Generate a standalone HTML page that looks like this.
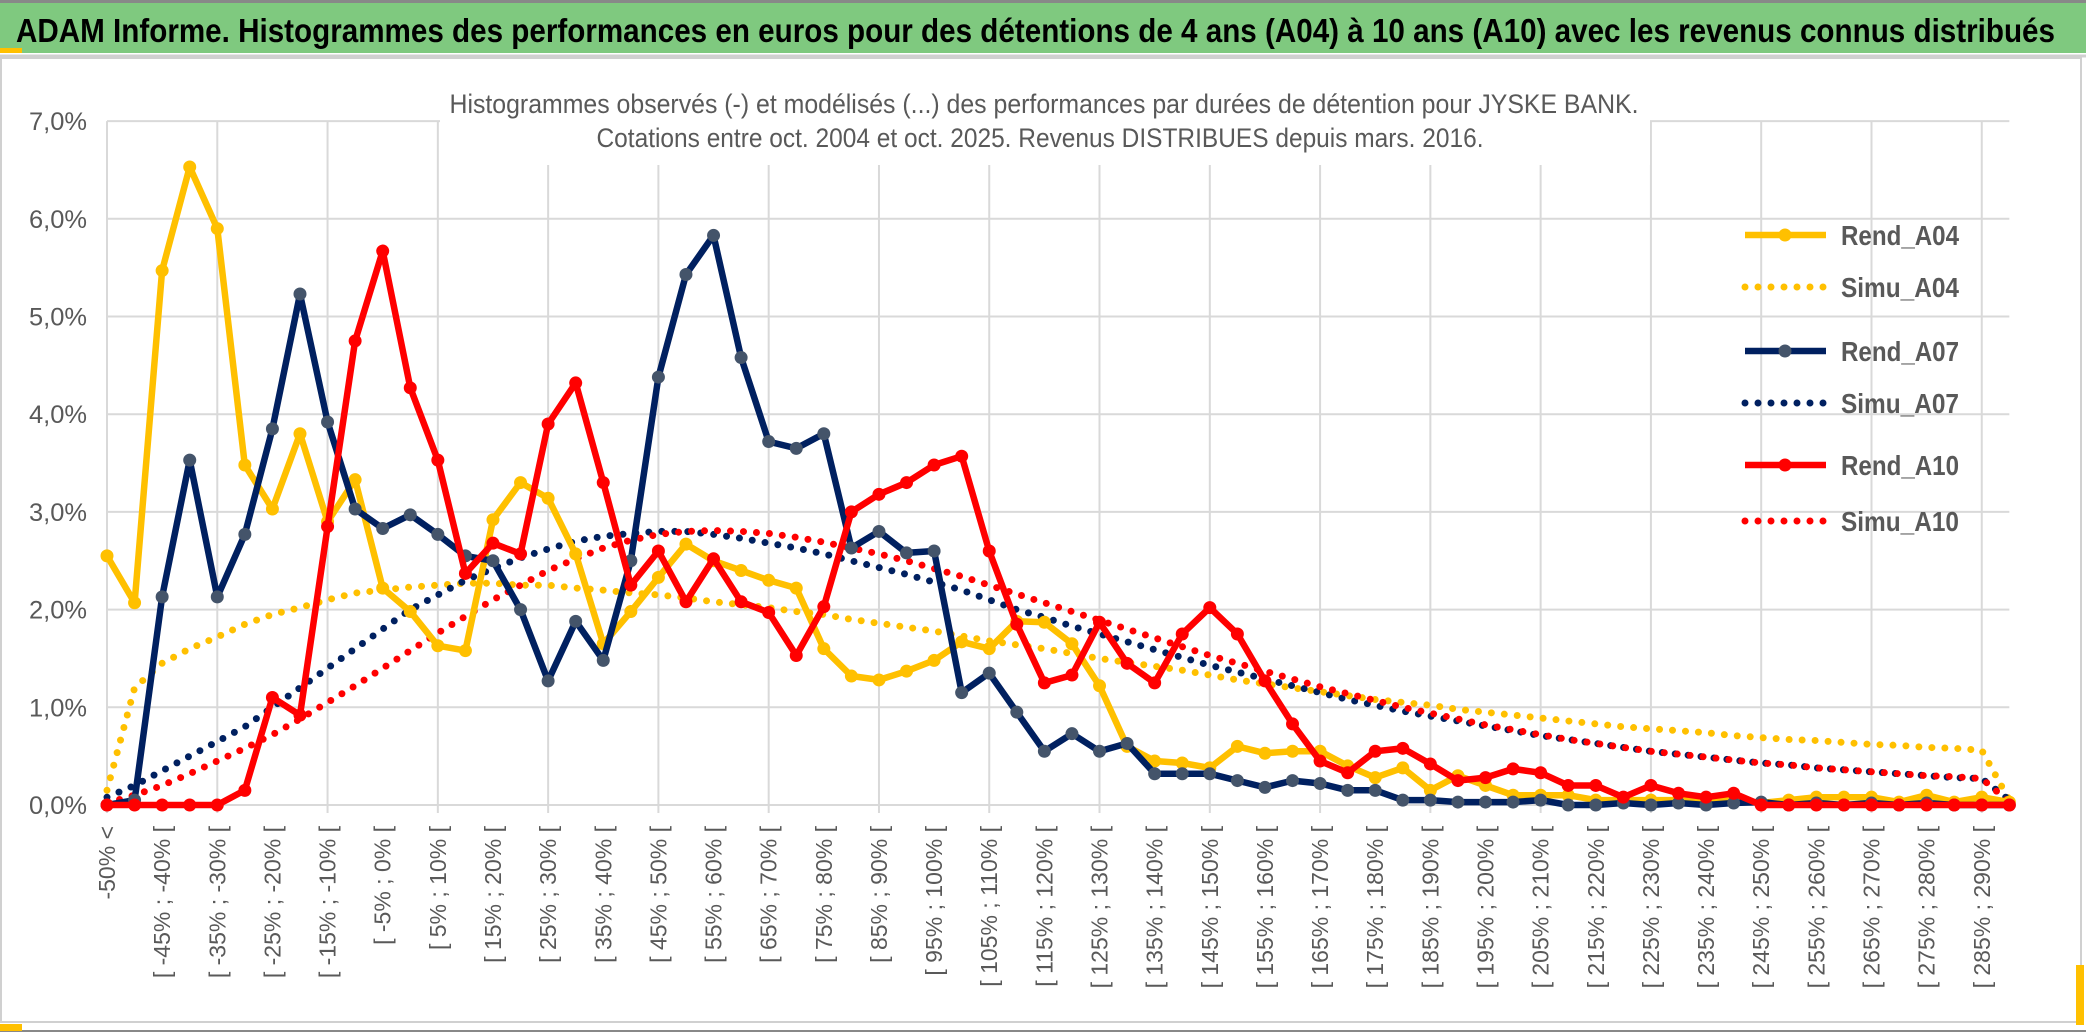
<!DOCTYPE html>
<html><head><meta charset="utf-8"><style>
html,body{margin:0;padding:0;background:#fff;}
svg{display:block;}
</style></head><body>
<svg id="chart" width="2086" height="1033" viewBox="0 0 2086 1033" xmlns="http://www.w3.org/2000/svg" font-family="'Liberation Sans Narrow','Liberation Sans',sans-serif">
<rect x="0" y="0" width="2086" height="1033" fill="#fff"/>
<rect x="0" y="3" width="2086" height="50" fill="#7FC97F"/>
<rect x="0" y="0" width="2086" height="3" fill="#888"/>
<rect x="0" y="48" width="22" height="5" fill="#FFC000"/>
<line x1="0" y1="56" x2="2086" y2="56" stroke="#d0d0d0" stroke-width="3"/>
<text x="16" y="42" font-size="33" font-weight="bold" fill="#000" textLength="2039" lengthAdjust="spacingAndGlyphs">ADAM Informe. Histogrammes des performances en euros pour des détentions de 4 ans (A04) à 10 ans (A10) avec les revenus connus distribués</text>
<rect x="1" y="58" width="2080" height="964" fill="none" stroke="#d0d0d0" stroke-width="2"/>
<line x1="0" y1="1031" x2="2086" y2="1031" stroke="#888" stroke-width="2"/>
<rect x="0" y="1024" width="22" height="7" fill="#FFC000"/>
<rect x="2076" y="965" width="8" height="60" fill="#FFC000"/>
<g id="grid"></g>
<rect x="440" y="70" width="1210" height="95" fill="#fff"/>
<text x="1044" y="113" font-size="27" fill="#595959" text-anchor="middle" textLength="1189" lengthAdjust="spacingAndGlyphs">Histogrammes observés (-) et modélisés (...) des performances par durées de détention pour JYSKE BANK.</text>
<text x="1040" y="147" font-size="27" fill="#595959" text-anchor="middle" textLength="887" lengthAdjust="spacingAndGlyphs">Cotations entre oct. 2004 et oct. 2025. Revenus DISTRIBUES depuis mars. 2016.</text>
<g id="yaxis"></g>
<g id="xaxis"></g>
<g id="series"></g>
<g id="legend"></g>
</svg>
<script>
const yTicks = [0,1,2,3,4,5,6,7];
const yTickLabels = ["0,0%","1,0%","2,0%","3,0%","4,0%","5,0%","6,0%","7,0%"];
const categories = ["-50% <"];
for (let k = 1; k <= 68; k++) { const a = -50 + 5*(k-1); categories.push("[ " + a + "% ; " + (a+5) + "% ["); }
categories.push("> 290%");
const rendA04 = [2.55,2.07,5.47,6.53,5.9,3.48,3.03,3.8,2.9,3.33,2.22,1.98,1.63,1.58,2.92,3.3,3.14,2.57,1.65,1.98,2.33,2.67,2.5,2.4,2.3,2.22,1.6,1.32,1.28,1.37,1.48,1.67,1.6,1.88,1.87,1.65,1.22,0.6,0.45,0.43,0.38,0.6,0.53,0.55,0.55,0.4,0.28,0.38,0.15,0.3,0.2,0.1,0.1,0.1,0.05,0.05,0.05,0.05,0.05,0.05,0.02,0.05,0.08,0.08,0.08,0.03,0.1,0.03,0.08,0.03];
const simuA04 = [0.15,1.2,1.45,1.6,1.72,1.85,1.95,2.02,2.1,2.17,2.2,2.23,2.25,2.27,2.27,2.25,2.25,2.22,2.2,2.17,2.15,2.12,2.08,2.05,2.02,1.98,1.95,1.9,1.86,1.82,1.78,1.73,1.68,1.64,1.6,1.55,1.5,1.46,1.42,1.38,1.33,1.28,1.24,1.2,1.16,1.12,1.08,1.05,1.02,0.98,0.95,0.92,0.89,0.86,0.83,0.8,0.78,0.76,0.74,0.71,0.69,0.67,0.66,0.64,0.62,0.61,0.59,0.58,0.56,0.05];
const rendA07 = [0,0.05,2.13,3.53,2.13,2.77,3.85,5.23,3.92,3.03,2.83,2.97,2.77,2.55,2.5,2.0,1.27,1.88,1.48,2.5,4.38,5.43,5.83,4.58,3.72,3.65,3.8,2.63,2.8,2.58,2.6,1.15,1.35,0.95,0.55,0.73,0.55,0.63,0.32,0.32,0.32,0.25,0.18,0.25,0.22,0.15,0.15,0.05,0.05,0.03,0.03,0.03,0.05,0,0,0.02,0,0.02,0,0.02,0.03,0,0.02,0,0.02,0,0.02,0,0,0];
const simuA07 = [0.08,0.2,0.35,0.5,0.65,0.8,1.0,1.2,1.4,1.6,1.8,2.0,2.15,2.3,2.42,2.53,2.62,2.7,2.75,2.78,2.8,2.8,2.77,2.73,2.68,2.63,2.57,2.5,2.43,2.36,2.28,2.2,2.1,2.0,1.92,1.83,1.75,1.67,1.59,1.51,1.43,1.36,1.29,1.22,1.15,1.08,1.02,0.96,0.91,0.86,0.81,0.76,0.71,0.67,0.63,0.59,0.55,0.52,0.49,0.46,0.43,0.41,0.38,0.36,0.34,0.32,0.3,0.28,0.27,0.05];
const rendA10 = [0,0,0,0,0,0.15,1.1,0.92,2.85,4.75,5.67,4.27,3.53,2.37,2.68,2.57,3.9,4.32,3.3,2.25,2.6,2.08,2.52,2.08,1.97,1.53,2.03,3.0,3.18,3.3,3.48,3.57,2.6,1.85,1.25,1.33,1.87,1.45,1.25,1.75,2.02,1.75,1.27,0.83,0.45,0.33,0.55,0.58,0.42,0.25,0.28,0.37,0.33,0.2,0.2,0.08,0.2,0.12,0.08,0.12,0,0,0,0,0,0,0,0,0,0];
const simuA10 = [0.02,0.1,0.2,0.32,0.45,0.58,0.72,0.88,1.05,1.22,1.4,1.58,1.76,1.93,2.1,2.25,2.4,2.52,2.63,2.71,2.77,2.8,2.81,2.8,2.78,2.74,2.69,2.63,2.57,2.5,2.42,2.34,2.25,2.16,2.07,1.98,1.89,1.8,1.71,1.62,1.53,1.45,1.37,1.29,1.21,1.14,1.07,1.0,0.94,0.88,0.82,0.77,0.72,0.67,0.63,0.59,0.55,0.52,0.49,0.46,0.43,0.41,0.38,0.36,0.34,0.32,0.3,0.29,0.27,0.03];

const NS = "http://www.w3.org/2000/svg";
const X0 = 107, STEP = 27.57, Y0 = 805, YPX = 97.7;
function xScale(i){ return X0 + i*STEP; }
function yScale(v){ return Y0 - v*YPX; }
function mk(tag, parent){ const e = document.createElementNS(NS, tag); parent.appendChild(e); return e; }

const grid = document.getElementById('grid');
const xRight = xScale(categories.length - 1);
yTicks.forEach(t => {
  const l = mk('line', grid);
  
  
  l.setAttribute('x1', X0); l.setAttribute('x2', xRight);
  l.setAttribute('y1', yScale(t)); l.setAttribute('y2', yScale(t));
  l.setAttribute('stroke', '#d9d9d9'); l.setAttribute('stroke-width', '2');
});
for (let i = 0; i < categories.length; i += 4) {
  const l = mk('line', grid);
  
  
  l.setAttribute('x1', xScale(i)); l.setAttribute('x2', xScale(i));
  l.setAttribute('y1', yScale(7)); l.setAttribute('y2', Y0 + 8);
  l.setAttribute('stroke', '#d9d9d9'); l.setAttribute('stroke-width', '2');
}

const yaxis = document.getElementById('yaxis');
yTicks.forEach((t, k) => {
  const tx = mk('text', yaxis);
  
  
  tx.setAttribute('x', 87); tx.setAttribute('y', yScale(t) + 9);
  tx.setAttribute('text-anchor', 'end'); tx.setAttribute('font-size', '25');
  tx.setAttribute('fill', '#595959');
  tx.setAttribute('textLength', '58'); tx.setAttribute('lengthAdjust', 'spacingAndGlyphs');
  tx.textContent = yTickLabels[k];
});

const xaxis = document.getElementById('xaxis');
categories.forEach((c, i) => {
  if (i % 2 !== 0) return;
  const tx = mk('text', xaxis);
  
  
  const x = xScale(i) + 8, y = 826;
  tx.setAttribute('x', x); tx.setAttribute('y', y);
  tx.setAttribute('transform', 'rotate(-90 ' + x + ' ' + y + ')');
  tx.setAttribute('text-anchor', 'end'); tx.setAttribute('font-size', '23');
  tx.setAttribute('font-family', "'Liberation Sans',sans-serif");
  tx.setAttribute('fill', '#595959');
  tx.textContent = c;
});

const series = document.getElementById('series');
function pts(arr){ return arr.map((v,i) => xScale(i).toFixed(1) + ',' + yScale(v).toFixed(1)).join(' '); }
function dotted(arr, color, name){
  const p = mk('polyline', series);
  
  
  p.setAttribute('points', pts(arr)); p.setAttribute('fill', 'none');
  p.setAttribute('stroke', color); p.setAttribute('stroke-width', '7');
  p.setAttribute('stroke-linecap', 'round'); p.setAttribute('stroke-dasharray', '0 13');
}
function solid(arr, color, mcolor, name){
  const g = mk('g', series);
  
  
  const p = mk('polyline', g);
  
  
  p.setAttribute('points', pts(arr)); p.setAttribute('fill', 'none');
  p.setAttribute('stroke', color); p.setAttribute('stroke-width', '6.5');
  p.setAttribute('stroke-linejoin', 'round');
  arr.forEach((v,i) => {
    const c = mk('circle', g);
    
    
    c.setAttribute('cx', xScale(i)); c.setAttribute('cy', yScale(v)); c.setAttribute('r', '6.5');
    c.setAttribute('fill', mcolor);
  });
}
dotted(simuA04, '#FFC000', 'simu-a04-line');
dotted(simuA07, '#002060', 'simu-a07-line');
dotted(simuA10, '#FF0000', 'simu-a10-line');
solid(rendA04, '#FFC000', '#FFC000', 'rend-a04');
solid(rendA07, '#002060', '#44546A', 'rend-a07');
solid(rendA10, '#FF0000', '#FF0000', 'rend-a10');

const legendItems = [["Rend_A04","#FFC000",false,235],["Simu_A04","#FFC000",true,287],["Rend_A07","#002060",false,351],["Simu_A07","#002060",true,403],["Rend_A10","#FF0000",false,465],["Simu_A10","#FF0000",true,521]];
const legend = document.getElementById('legend');
legendItems.forEach(it => {
  const g = mk('g', legend);
  
  
  const l = mk('line', g);
  
  
  l.setAttribute('x1', 1745); l.setAttribute('x2', 1826);
  l.setAttribute('y1', it[3]); l.setAttribute('y2', it[3]);
  l.setAttribute('stroke', it[1]);
  if (it[2]) { l.setAttribute('stroke-width','7'); l.setAttribute('stroke-linecap','round'); l.setAttribute('stroke-dasharray','0 13'); }
  else {
    l.setAttribute('stroke-width','6.5');
    const c = mk('circle', g);
    
    
    c.setAttribute('cx', 1785); c.setAttribute('cy', it[3]); c.setAttribute('r', '6.5');
    c.setAttribute('fill', it[1] === '#002060' ? '#44546A' : it[1]);
  }
  const t = mk('text', g);
  
  
  t.setAttribute('x', 1841); t.setAttribute('y', it[3] + 10);
  t.setAttribute('font-size', '28'); t.setAttribute('font-weight', 'bold'); t.setAttribute('fill', '#595959');
  t.setAttribute('textLength', '118'); t.setAttribute('lengthAdjust', 'spacingAndGlyphs');
  t.textContent = it[0];
});
</script>
</body></html>
